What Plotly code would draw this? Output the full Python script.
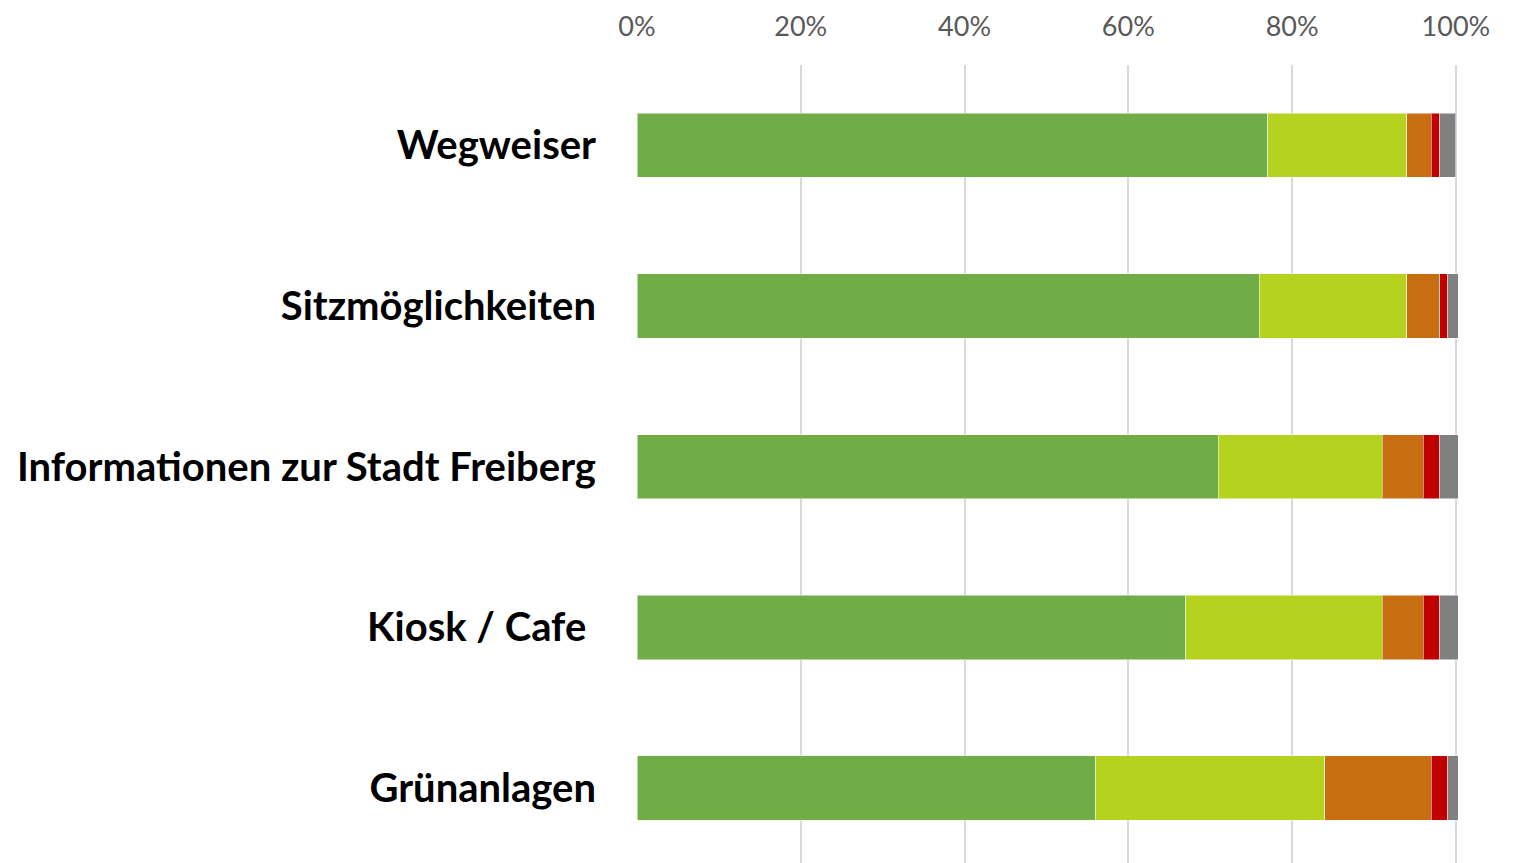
import plotly.graph_objects as go

categories = ["Wegweiser", "Sitzmöglichkeiten", "Informationen zur Stadt Freiberg", "Kiosk / Cafe ", "Grünanlagen"]
series_names = ["Stufe 1", "Stufe 2", "Stufe 3", "Stufe 4", "Stufe 5"]
s1 = [0.77, 0.76, 0.71, 0.67, 0.56]
s2 = [0.17, 0.18, 0.20, 0.24, 0.28]
s3 = [0.03, 0.04, 0.05, 0.05, 0.13]
s4 = [0.01, 0.01, 0.02, 0.02, 0.02]
s5 = [0.02, 0.013, 0.023, 0.023, 0.013]
colors = ["#70AD47", "#B4D21E", "#C76D12", "#C00000", "#808080"]
tick_vals = [0, 0.2, 0.4, 0.6, 0.8, 1.0]
tick_text = ["0%", "20%", "40%", "60%", "80%", "100%"]

fig = go.Figure()
for name, vals, col in zip(series_names, [s1, s2, s3, s4, s5], colors):
    fig.add_trace(go.Bar(
        y=categories, x=vals, name=name, orientation="h",
        marker=dict(color=col, line=dict(color="rgba(255,255,255,0.5)", width=1)),
        width=0.4, showlegend=False,
    ))

fig.update_layout(
    barmode="stack",
    width=1521, height=863,
    margin=dict(l=629, r=69, t=57, b=8),
    plot_bgcolor="white", paper_bgcolor="white",
    font=dict(family="Lato", color="#000000"),
)
fig.update_xaxes(
    side="top", range=[0, 1.005], tickvals=tick_vals, ticktext=tick_text,
    showgrid=True, gridcolor="#D9D9D9", gridwidth=2, zeroline=False,
    showline=False, tickfont=dict(family="Lato", size=27, color="#595959"),
    ticklabelstandoff=23, automargin=False,
)
fig.update_yaxes(
    categoryorder="array", categoryarray=categories,
    range=[4.466, -0.5], showgrid=False, zeroline=False, showline=False,
    tickfont=dict(family="Lato", size=40, color="#000000", weight="bold"),
    ticklabelstandoff=40, automargin=False,
)

fig.write_html("out.html")
